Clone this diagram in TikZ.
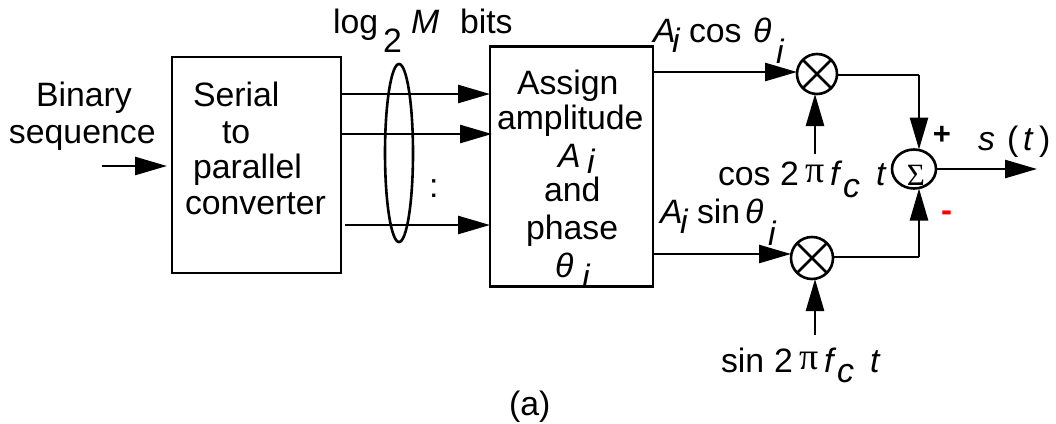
\documentclass[tikz,border=0pt]{standalone}
\usepackage{fontspec}
\setmainfont{Liberation Sans}
\newfontfamily\symf{Liberation Serif}
\usetikzlibrary{arrows.meta,shapes.geometric}
\tikzset{
  x=1pt,y=-1pt,
  line/.style={line width=2.6pt,draw=black,line join=miter},
  arr/.style={line,-{Triangle[length=32pt,width=18pt,sharp]}},
  block/.style={line,rectangle,inner sep=0pt,outer sep=0pt},
  mixer/.style={line,circle,inner sep=0pt,outer sep=0pt,minimum size=40pt},
  oval/.style={line,ellipse,inner sep=0pt,outer sep=0pt},
  lab/.style={anchor=base west,inner sep=0pt,outer sep=0pt,font=\fontsize{33.8}{34}\selectfont},
  ital/.style={lab,font=\fontsize{33.8}{34}\selectfont\itshape},
  sym/.style={lab,font=\fontsize{38}{38}\selectfont\symf},
}
\newcommand{\tx}[5][lab]{\node[#1] (#2) at (#3,#4) {#5};}
\begin{document}
\begin{tikzpicture}
\useasboundingbox (0,0) rectangle (1056,423);
% blocks
\node[block,minimum width=169pt,minimum height=216pt] (ser) at (256.5,165) {};
\node[block,minimum width=163pt,minimum height=240pt] (asg) at (571.5,166.5) {};
\node[mixer] (m1) at (817,74) {};
\node[mixer,minimum size=42pt] (m2) at (812,258) {};
\node[oval,minimum width=44pt,minimum height=39pt] (sum) at (914,169) {};
\node[oval,minimum width=28pt,minimum height=178pt] (bund) at (399,153) {};
\node[inner sep=0pt,font=\fontsize{31}{31}\selectfont\symf] (sg) at (916,175) {Σ};
\draw[line] (m1.45)--(m1.225) (m1.135)--(m1.315);
\draw[line] (m2.45)--(m2.225) (m2.135)--(m2.315);
% free ends
\coordinate (in) at (102,166);
\coordinate (ine) at (167,166);
\coordinate (b1) at (341,94);
\coordinate (b2) at (341,134);
\coordinate (b3) at (345,225);
\coordinate (u1) at (653,72);
\coordinate (u2) at (653,254);
\coordinate (c1) at (815,154);
\coordinate (c2) at (815,335);
\coordinate (out) at (1037,169);
\coordinate (j1) at (919,75);
\coordinate (j2) at (919,257);
% connectors
\draw[arr] (in) -- (ine);
\draw[arr] (b1) -- (asg.west |- b1);
\draw[arr] (b2) -- ([xshift=2pt]asg.west |- b2);
\draw[arr] (b3) -- (asg.west |- b3);
\draw[arr] (u1) -- (m1.west |- u1);
\draw[arr] (u2) -- (m2.west |- u2);
\draw[arr] (c1) -- (c1 |- m1.south);
\draw[arr] (c2) -- (c2 |- m2.south);
\draw[line] (m1.east |- j1) -- (j1);
\draw[arr] (j1) -- (j1 |- sum.north);
\draw[line] (m2.east |- j2) -- (j2);
\draw[arr] (j2) -- (j2 |- sum.south);
\draw[arr] (sum.east) -- (out);
% texts
\tx{t1}{36}{106}{Binary}
\tx{t2}{9}{143}{sequence}
\tx{t3}{193}{106}{Serial}
\tx{t4}{222}{143}{to}
\tx{t5}{193}{178}{parallel}
\tx{t6}{185}{214}{converter}
\tx{t7}{333}{33}{log}
\tx{t8}{383}{52}{2}
\tx[ital]{t9}{411}{33}{M}
\tx{t10}{460}{33}{bits}
\tx{t11}{429}{197}{:}
\tx{t12}{517}{94}{Assign}
\tx{t13}{497}{129}{amplitude}
\tx[ital]{t14}{558}{167}{A}
\tx[ital]{t15}{587}{173}{i}
\tx{t16}{544}{201}{and}
\tx{t17}{526}{239}{phase}
\tx[ital]{t18}{555}{277}{θ}
\tx[ital]{t19}{582}{288}{i}
\tx[ital]{t20}{653}{42}{A}
\tx[ital]{t21}{672}{52}{i}
\tx{t22}{689}{42}{cos}
\tx[ital]{t23}{753}{42}{θ}
\tx[ital]{t24}{776}{63}{i}
\tx{t25}{718}{185}{cos}
\tx{t26}{780}{185}{2}
\tx[sym]{t27}{805}{182}{π}
\tx[ital]{t28}{830}{185}{f}
\tx[ital]{t29}{843}{197}{c}
\tx[ital]{t30}{876}{185}{t}
\tx[ital]{t31}{660}{223}{A}
\tx[ital]{t32}{680}{233}{i}
\tx{t33}{697}{223}{sin}
\tx[ital]{t34}{745}{223}{θ}
\tx[ital]{t35}{768}{245}{i}
\tx{t36}{721}{372}{sin}
\tx{t37}{774}{372}{2}
\tx[sym]{t38}{799}{369}{π}
\tx[ital]{t39}{824}{372}{f}
\tx[ital]{t40}{837}{382}{c}
\tx[ital]{t41}{870}{372}{t}
\tx[ital]{t42}{978}{150}{s}
\tx{t43}{1007}{150}{(}
\tx[ital]{t44}{1023}{150}{t}
\tx{t45}{1039}{150}{)}
\node[anchor=base,inner sep=0pt,font=\fontsize{31}{31}\selectfont\bfseries] (plus) at (942,144) {+};
\node[anchor=base,inner sep=0pt,font=\fontsize{33}{33}\selectfont\bfseries,text=red] (minus) at (946.5,221) {-};
\tx{t46}{509}{415}{(a)}
\end{tikzpicture}
\end{document}
